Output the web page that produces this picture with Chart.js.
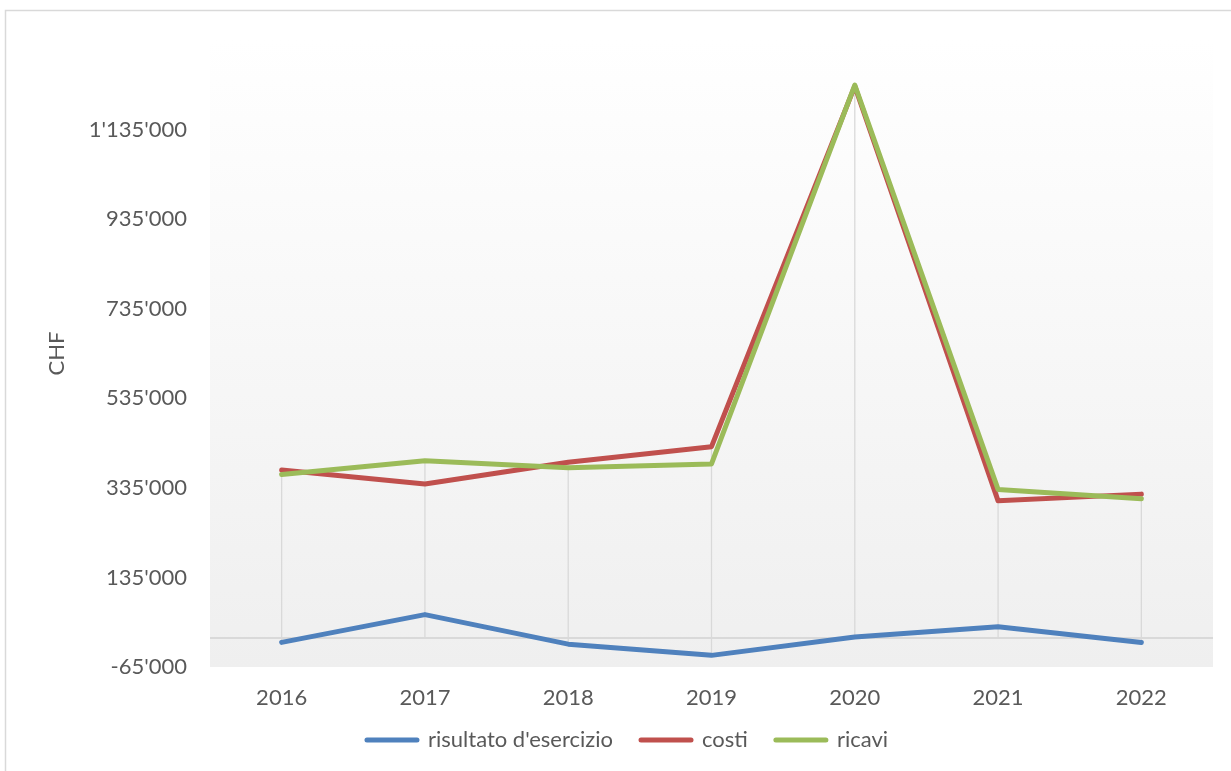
<!DOCTYPE html>
<html><head><meta charset="utf-8">
<script src="https://cdn.jsdelivr.net/npm/chart.js@4"></script>
<style>html,body{margin:0;padding:0;background:#fff;overflow:hidden}#wrap{position:relative;width:1231px;height:771px}</style>
</head><body><div id="wrap"><canvas id="c" width="1231" height="771"></canvas></div>
<script>
const categories = ['2016', '2017', '2018', '2019', '2020', '2021', '2022'];
const risultato = [-10000, 52000, -14000, -39000, 2000, 25000, -10500];
const costi = [375000, 343500, 392000, 427000, 1232000, 306000, 321000];
const ricavi = [365000, 395500, 380000, 388500, 1234500, 331500, 310500];
const yTickValues = [-65000, 135000, 335000, 535000, 735000, 935000, 1135000];
const yMin = -65000;
const yMax = 1335000;

function fmt(v) {
  const s = Math.abs(v).toString().replace(/\B(?=(\d{3})+(?!\d))/g, "'");
  return (v < 0 ? '-' : '') + s;
}

const FONT = {family: 'Lato', size: 22};
const TXT = '#595959';
const GRIDC = '#d9d9d9';

const decor = {
  id: 'decor',
  afterLayout(chart) {
    // let the category labels extend below the (short) axis box without being clipped
    const xs = chart.scales.x;
    xs.bottom = xs.top + 48;
    xs.height = 48;
  },
  beforeDraw(chart) {
    const ctx = chart.ctx;
    const a = chart.chartArea;
    const xs = chart.scales.x, ys = chart.scales.y;
    ctx.save();
    ctx.strokeStyle = GRIDC;
    ctx.lineWidth = 1.5;
    ctx.strokeRect(5.5, 10.5, 1400, 900);
    const g = ctx.createLinearGradient(0, a.top, 0, a.bottom);
    g.addColorStop(0, '#ffffff');
    g.addColorStop(1, '#efefef');
    ctx.fillStyle = g;
    ctx.fillRect(a.left, a.top, a.right - a.left, a.bottom - a.top);
    const y0 = ys.getPixelForValue(0);
    ctx.strokeStyle = GRIDC;
    ctx.lineWidth = 2;
    ctx.beginPath();
    ctx.moveTo(a.left, y0);
    ctx.lineTo(a.right, y0);
    ctx.stroke();
    ctx.lineWidth = 1.3;
    const ds = chart.data.datasets;
    for (let i = 0; i < categories.length; i++) {
      let hi = 0, lo = 0;
      ds.forEach(d => { hi = Math.max(hi, d.data[i]); lo = Math.min(lo, d.data[i]); });
      const x = xs.getPixelForValue(i);
      ctx.beginPath();
      ctx.moveTo(x, ys.getPixelForValue(hi));
      ctx.lineTo(x, ys.getPixelForValue(lo));
      ctx.stroke();
    }
    ctx.restore();
  }
};

new Chart(document.getElementById('c'), {
  type: 'line',
  data: {
    labels: categories,
    datasets: [
      {label: "risultato d'esercizio", data: risultato, borderColor: '#4F81BD', backgroundColor: '#4F81BD', order: 2},
      {label: 'costi', data: costi, borderColor: '#C0504D', backgroundColor: '#C0504D', order: 1},
      {label: 'ricavi', data: ricavi, borderColor: '#9BBB59', backgroundColor: '#9BBB59', order: 0}
    ]
  },
  options: {
    responsive: false,
    animation: false,
    devicePixelRatio: 1,
    layout: {padding: {left: 42, right: 18, top: 40, bottom: 10}},
    elements: {
      line: {borderWidth: 5, tension: 0, borderCapStyle: 'round', borderJoinStyle: 'round', fill: false},
      point: {radius: 0, hoverRadius: 0}
    },
    plugins: {
      legend: {
        position: 'bottom',
        labels: {
          boxWidth: 50, boxHeight: 0,
          font: FONT, color: TXT, padding: 28,
          sort: (a, b) => a.datasetIndex - b.datasetIndex
        }
      },
      tooltip: {enabled: false}
    },
    scales: {
      x: {
        offset: true,
        grid: {display: false}, border: {display: false},
        ticks: {font: FONT, color: TXT, padding: 10},
        afterFit(s) { s.height = 34; }
      },
      y: {
        min: yMin, max: yMax,
        grid: {display: false}, border: {display: false},
        ticks: {font: FONT, color: TXT, padding: 15, callback: v => fmt(v)},
        afterBuildTicks(s) { s.ticks = yTickValues.map(v => ({value: v})); },
        afterFit(s) { s.width = 168; },
        title: {display: true, text: 'CHF', font: FONT, color: TXT, padding: {top: 2, bottom: 0}}
      }
    }
  },
  plugins: [decor]
});
</script>
</body></html>
